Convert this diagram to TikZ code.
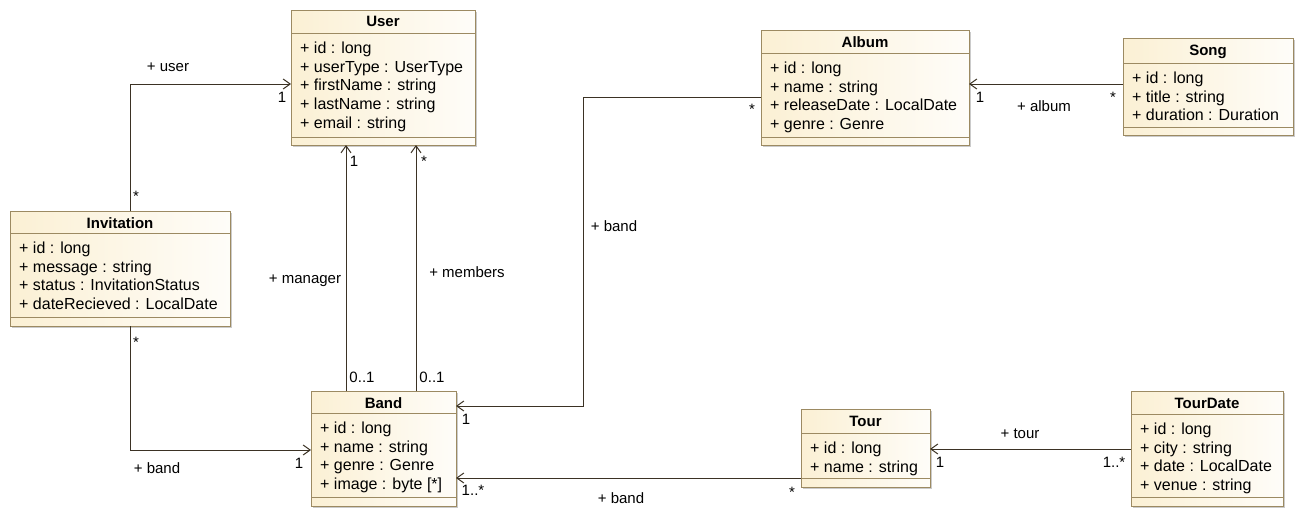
\documentclass[tikz,border=0pt]{standalone}
\usepackage{fontspec}
\setmainfont{Liberation Sans}
\usetikzlibrary{arrows.meta,shadows,calc}
\definecolor{boxfill}{HTML}{FBF0D4}
\definecolor{boxborder}{HTML}{9C8A62}
\definecolor{linecol}{HTML}{3B3224}
\tikzset{
  classbox/.style={draw=boxborder, line width=1pt, left color=boxfill, right color=boxfill!15!white,
    outer sep=0pt, inner sep=0pt,
    drop shadow={shadow xshift=2pt, shadow yshift=-2pt, fill=black!40, opacity=0.5}},
  sepline/.style={draw=boxborder, line width=1pt},
  titletext/.style={font=\fontsize{15}{18}\selectfont\bfseries, inner sep=0pt, anchor=base},
  attrtext/.style={font=\fontsize{16}{19}\selectfont, inner sep=0pt, anchor=base west},
  labeltext/.style={font=\fontsize{15}{18}\selectfont, inner sep=0pt, anchor=base},
  assoc/.style={draw=linecol, line width=1pt, -{Straight Barb[length=7pt,width=10pt,line width=1pt]}},
}
% name, left, top, right, titlesep, attrsep, bottom, title, attributes
\newcommand\umlclass[9]{%
  \node[classbox, anchor=north west, minimum width={#4pt-#2pt}, minimum height={#7pt-#3pt}] (#1) at (#2,#3) {};
  \draw[sepline] (#2,#5) -- (#4,#5);
  \draw[sepline] (#2,#6) -- (#4,#6);
  \node[titletext] (#1-title) at ({(#2+#4)/2},{#3+17}) {#8};
  \foreach \a [count=\i] in {#9} {
    \node[attrtext] (#1-a\i) at ({#2+9},{#5+20.5+(\i-1)*18.7}) {\a};
  }%
}
\begin{document}
\begin{tikzpicture}[x=1pt,y=-1pt]
\useasboundingbox[fill=white] (0,0) rectangle (1304,530);

\umlclass{user}{291}{10}{475}{33}{137}{145}{User}{+ id : long,+ userType : UserType,+ firstName : string,+ lastName : string,+ email : string}
\umlclass{inv}{10}{211}{230}{233}{317}{326}{Invitation}{+ id : long,+ message : string,+ status : InvitationStatus,+ dateRecieved : LocalDate}
\umlclass{band}{311}{391}{456}{413}{497}{506}{Band}{+ id : long,+ name : string,+ genre : Genre,+ image : byte [*]}
\umlclass{album}{761}{30}{969}{53}{137}{145}{Album}{+ id : long,+ name : string,+ releaseDate : LocalDate,+ genre : Genre}
\umlclass{song}{1123}{38}{1293}{63}{127}{135}{Song}{+ id : long,+ title : string,+ duration : Duration}
\umlclass{tour}{801}{409}{930}{433}{478}{487}{Tour}{+ id : long,+ name : string}
\umlclass{tourdate}{1131}{391}{1283}{414}{497}{506}{TourDate}{+ id : long,+ city : string,+ date : LocalDate,+ venue : string}

% Invitation -> User
\draw[assoc] ([xshift=10pt]inv.north) |- ([yshift=-6.5pt]user.west);
% Invitation -> Band
\draw[assoc] ([xshift=10pt]inv.south) |- ([yshift=-1.5pt]band.west);
% Band -> User (manager, members)
\coordinate (m1) at ([xshift=-37.5pt]band.north);
\coordinate (m2) at ([xshift=32.5pt]band.north);
\draw[assoc] (m1) -- (m1 |- user.south);
\draw[assoc] (m2) -- (m2 |- user.south);
% Album -> Band
\coordinate (a1) at ([yshift=-9.5pt]album.west);
\draw[assoc] (a1) -- ++(-178,0) |- ([yshift=42.5pt]band.east);
% Song -> Album
\coordinate (s1) at ([yshift=2.5pt]song.west);
\draw[assoc] (s1) -- (s1 -| album.east);
% Tour -> Band
\coordinate (t1) at ([yshift=-30pt]tour.west);
\draw[assoc] (t1) -- (t1 -| band.east);
% TourDate -> Tour
\coordinate (td1) at ([yshift=-0.5pt]tourdate.west);
\draw[assoc] (td1) -- (td1 -| tour.east);

% labels
\node[labeltext] (l1) at (168,71) {+ user};
\node[labeltext] (l2) at (282,102) {1};
\node[labeltext] (l3) at (136,201) {*};
\node[labeltext] (l4) at (136,347) {*};
\node[labeltext] (l5) at (157,473) {+ band};
\node[labeltext] (l6) at (299,468) {1};
\node[labeltext] (l7) at (354,166) {1};
\node[labeltext] (l8) at (424,166) {*};
\node[labeltext] (l9) at (362,382) {0..1};
\node[labeltext] (l10) at (432,382) {0..1};
\node[labeltext] (l11) at (305,283) {+ manager};
\node[labeltext] (l12) at (467,277) {+ members};
\node[labeltext] (l13) at (752,114) {*};
\node[labeltext] (l14) at (466,424) {1};
\node[labeltext] (l15) at (614,231) {+ band};
\node[labeltext] (l16) at (980,102) {1};
\node[labeltext] (l17) at (1113,102) {*};
\node[labeltext] (l18) at (1044,111) {+ album};
\node[labeltext] (l19) at (473,495) {1..*};
\node[labeltext] (l20) at (792,497) {*};
\node[labeltext] (l21) at (621,503) {+ band};
\node[labeltext] (l22) at (1020,438) {+ tour};
\node[labeltext] (l23) at (940,467) {1};
\node[labeltext] (l24) at (1114,467) {1..*};
\end{tikzpicture}
\end{document}
